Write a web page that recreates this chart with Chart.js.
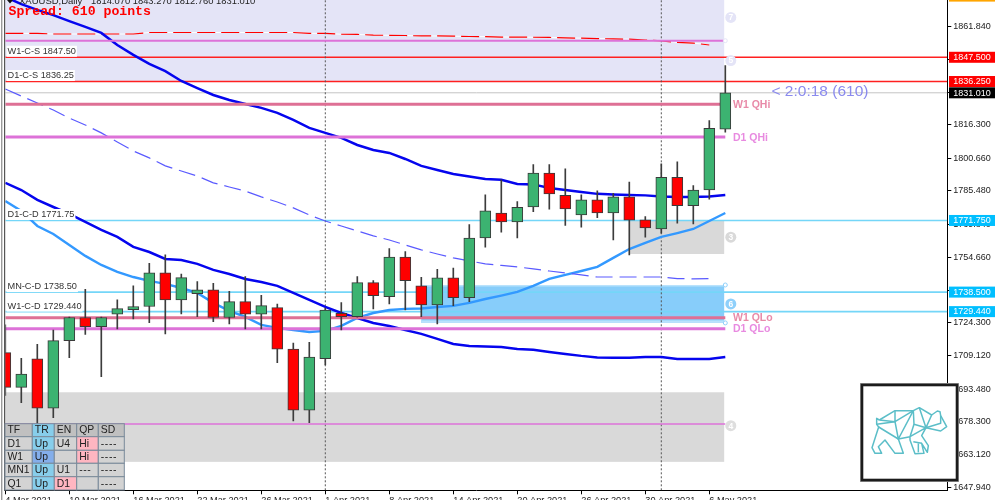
<!DOCTYPE html>
<html><head><meta charset="utf-8">
<style>html,body{margin:0;padding:0;background:#fff;overflow:hidden}canvas{display:block}</style>
<script src="https://cdn.jsdelivr.net/npm/chart.js@4"></script>
</head><body><canvas id="c" width="1000" height="500"></canvas>
<script>
const opens=[1710.4,1694.3,1707.5,1684.6,1716.0,1726.7,1722.5,1728.2,1730.4,1731.8,1747.5,1734.9,1737.8,1739.6,1726.7,1734.1,1728.2,1731.3,1712.0,1683.7,1707.6,1728.7,1727.1,1742.9,1736.4,1754.8,1741.4,1732.6,1745.1,1735.9,1763.6,1775.2,1771.1,1778.0,1793.8,1783.4,1774.3,1781.3,1775.2,1782.7,1772.0,1767.8,1791.8,1778.6,1785.9,1814.1];
const highs=[1723.3,1707.8,1714.3,1720.9,1726.9,1739.8,1726.9,1734.9,1741.4,1751.9,1755.8,1746.9,1743.4,1742.6,1738.9,1745.7,1737.0,1732.9,1714.8,1715.2,1731.1,1733.6,1745.7,1743.8,1758.7,1757.3,1745.4,1749.1,1749.6,1769.8,1783.7,1790.6,1780.5,1797.7,1797.7,1795.7,1783.6,1785.5,1784.4,1789.6,1773.5,1798.0,1799.0,1787.9,1818.1,1843.6];
const lows=[1690.5,1687.2,1676.9,1680.2,1708.1,1718.9,1699.3,1721.4,1726.0,1724.3,1719.1,1728.4,1727.1,1724.8,1723.7,1721.4,1721.4,1705.8,1678.7,1677.9,1704.7,1720.9,1726.9,1730.7,1733.0,1730.2,1727.1,1723.7,1732.2,1734.1,1759.3,1766.3,1763.6,1775.8,1777.0,1769.5,1768.6,1773.1,1762.7,1755.8,1764.0,1765.8,1770.5,1770.1,1781.6,1812.7];
const closes=[1694.3,1700.5,1684.6,1716.0,1726.7,1722.5,1726.7,1730.8,1731.8,1747.5,1734.9,1745.2,1739.6,1726.7,1734.1,1728.2,1732.2,1712.0,1683.7,1708.3,1730.1,1727.1,1742.9,1736.9,1754.8,1743.8,1732.6,1745.1,1735.9,1763.6,1776.2,1771.1,1777.9,1793.8,1784.1,1777.1,1781.3,1775.2,1782.7,1771.9,1768.3,1791.8,1778.6,1785.9,1814.5,1831.0];
const maSlowBlue=[1875.5,1872.2,1869.5,1867.1,1864.3,1861.6,1858.8,1853.2,1848.6,1844.4,1841.1,1836.5,1833.2,1830.0,1827.7,1825.8,1824.0,1821.7,1818.4,1814.7,1812.4,1810.1,1806.8,1804.5,1803.1,1800.3,1797.1,1795.2,1793.3,1792.2,1791.0,1790.6,1788.7,1788.5,1786.8,1785.9,1785.0,1784.1,1783.8,1783.6,1783.4,1782.9,1782.7,1782.7,1782.9,1783.6];
const maLowBlue=[1789.2,1785.9,1781.3,1778.0,1774.8,1771.1,1767.4,1764.1,1759.5,1757.1,1753.9,1753.4,1751.6,1748.8,1746.9,1744.6,1743.2,1741.4,1738.1,1734.9,1731.6,1728.8,1726.5,1724.2,1722.8,1720.9,1719.1,1716.8,1714.4,1713.5,1713.3,1713.0,1712.1,1711.7,1710.7,1709.8,1708.9,1708.2,1708.0,1708.0,1708.4,1708.4,1707.5,1707.5,1707.5,1708.4];
const maSky=[1780.8,1776.2,1769.2,1765.5,1760.4,1755.3,1751.1,1747.9,1745.5,1743.7,1742.3,1740.4,1738.1,1733.5,1729.8,1727.0,1723.3,1721.9,1720.9,1720.0,1720.5,1722.8,1726.5,1728.8,1730.2,1730.7,1730.9,1731.6,1732.1,1733.5,1735.3,1736.9,1738.6,1741.4,1744.6,1746.5,1748.3,1750.2,1754.4,1758.5,1761.3,1764.1,1765.9,1767.8,1771.5,1775.2];
const maDashBlue=[1832.8,1829.5,1826.3,1823.0,1819.3,1816.1,1812.4,1808.2,1804.0,1800.8,1797.1,1794.7,1792.4,1789.2,1787.3,1785.4,1782.7,1780.3,1777.6,1774.3,1771.5,1769.2,1766.9,1764.6,1762.7,1760.4,1758.1,1756.2,1754.4,1753.0,1751.6,1750.9,1750.2,1749.3,1748.3,1747.4,1746.5,1745.5,1745.5,1745.5,1745.5,1745.5,1744.8,1744.6,1744.8];
const maDashRed=[1858.6,1858.6,1858.6,1858.3,1858.3,1858.3,1858.3,1858.3,1858.3,1859.0,1859.0,1859.0,1859.0,1859.0,1859.0,1859.0,1859.0,1859.0,1859.0,1858.6,1858.6,1858.2,1858.1,1857.8,1857.7,1857.6,1857.4,1857.4,1857.3,1857.15,1857.1,1856.9,1856.9,1856.8,1856.7,1856.5,1856.4,1856.2,1856.0,1855.9,1855.5,1855.1,1854.4,1854.1,1853.2];
const yTicks=[1861.84,1846.68,1831.0,1816.3,1800.66,1785.48,1769.84,1754.66,1739.02,1724.3,1709.12,1693.48,1678.3,1663.12,1647.94];
const xTickIndex=[0,4,8,12,16,20,24,28,32,36,40,44];
const xTickLabels=['4 Mar 2021','10 Mar 2021','16 Mar 2021','22 Mar 2021','26 Mar 2021','1 Apr 2021','8 Apr 2021','14 Apr 2021','20 Apr 2021','26 Apr 2021','30 Apr 2021','6 May 2021'];
const fullLineValues=[1847.5,1836.25,1831.01,1771.75,1738.5,1729.44];
const fullLineColors=['#ff2020','#ff2020','#c4c4c4','#74d6f8','#74d6f8','#74d6f8'];
const fullLineWidths=[1.6,1.6,1,1.6,1.6,1.6];
const tagTexts=['1847.500','1836.250','1831.010','1771.750','1738.500','1729.440'];
const tagColors=['#ff0000','#ff0000','#000000','#00bfff','#00bfff','#00bfff'];
const zoneLines=[1855.2,1825.7,1810.5,1726.6,1721.5,1677.3];
const zoneLineColors=['#dd72d8','#de7095','#dd72d8','#de7095','#dd72d8','#dd72d8'];
const zoneLineWidths=[2,3,3,3,3,1.6];
const zoneStarts=[-1,-1,39,26];
const zoneEnds=[44.93,44.93,44.93,44.93];
const zoneLows=[1836.25,1659.7,1756.2,1724.2];
const zoneHighs=[1875,1692.0,1771.75,1741.8];
const zoneFills=['#e4e4f7','#d9d9d9','#d9d9d9','#87cdfa'];
const vLineIndex=[20,41];
const levelLabels=['W1-C-S 1847.50','D1-C-S 1836.25','D1-C-D 1771.75','MN-C-D 1738.50','W1-C-D 1729.440'];
const levelLabelPrices=[1847.5,1836.25,1771.75,1738.5,1729.44];
const qLabels=['W1 QHi','D1 QHi','W1 QLo','D1 QLo'];
const qPrices=[1825.7,1810.5,1726.6,1721.5];
const qColors=['#e88aa8','#e88ae0','#e88aa8','#e88ae0'];
const circleText=['7','5','3','6','4'];
const circlePrices=[1866.0,1846.0,1764.0,1733.0,1676.5];
const circleFills=['#e4e4f7','#e4e4f7','#d9d9d9','#8fd0fb','#dedede'];
const tableHead=['TF','TR','EN','QP','SD'];
const tableRows=[['D1','Up','U4','Hi','----'],['W1','Up','','Hi','----'],['MN1','Up','U1','---','----'],['Q1','Up','D1','','----']];
const tableFills=[['#d3d3d3','#87ceeb','#d3d3d3','#ffb6c1','#d3d3d3'],['#d3d3d3','#84aeeb','#d3d3d3','#ffb6c1','#d3d3d3'],['#d3d3d3','#87ceeb','#d3d3d3','#d3d3d3','#d3d3d3'],['#d3d3d3','#87ceeb','#ffb6c1','#d3d3d3','#d3d3d3']];
const headerSymbol='XAUUSD,Daily';
const headerPrices='1814.070 1843.270 1812.760 1831.010';
const spreadText='Spread: 610 points';
const timerText='< 2:0:18 (610)';
const xMax=58.875, yMin=1646.5, yMax=1874.09, lastIndex=45;
const FONT='"Liberation Sans"';

const pts=a=>a.map((v,i)=>({x:i,y:v}));
const flat=(v,x0,x1)=>[{x:x0,y:v},{x:x1,y:v}];
const ln=(data,color,width,extra)=>Object.assign({type:'line',data,borderColor:color,borderWidth:width,pointRadius:0,tension:0,fill:false,order:5},extra||{});
const datasets=[];
vLineIndex.forEach(i=>datasets.push(ln([{x:i,y:yMin},{x:i,y:yMax}],'#555',1,{borderDash:[2,2],order:6})));
fullLineValues.forEach((v,i)=>datasets.push(ln(flat(v,0,xMax),fullLineColors[i],fullLineWidths[i],{order:6})));
datasets.push(ln(pts(maDashRed),'#ffffff',1,{order:7}));
datasets.push(ln(pts(maDashRed),'#ff0000',1.2,{borderDash:[18,6],order:6}));
datasets.push(ln(pts(maDashBlue),'#5a5aff',1.2,{borderDash:[17,7]}));
datasets.push(ln(pts(maSlowBlue),'#0505ee',2.5));
datasets.push(ln(pts(maLowBlue),'#0505ee',2.5));
datasets.push(ln(pts(maSky),'#3399ff',2.4));
zoneLines.forEach((v,i)=>datasets.push(ln(flat(v,0,lastIndex),zoneLineColors[i],zoneLineWidths[i],{order:4})));
datasets.push({type:'bar',data:lows.map((l,i)=>({x:i,y:[l,highs[i]]})),backgroundColor:'#3c3c3c',barThickness:1,grouped:false,order:2});
datasets.push({type:'bar',data:opens.map((o,i)=>({x:i,y:[o,closes[i]]})),
  backgroundColor:opens.map((o,i)=>closes[i]>=o?'#3cb371':'#ff0000'),borderColor:'#3a3a3a',borderWidth:1,borderSkipped:false,barThickness:11,grouped:false,order:1});

function text(ctx,s,x,y,font,color,align,base){ctx.font=font;ctx.fillStyle=color;ctx.textAlign=align||'left';ctx.textBaseline=base||'middle';ctx.fillText(s,x,y);}
const zonesPlugin={id:'zones',beforeDatasetsDraw(ch){
  const c=ch.ctx,X=ch.scales.x,Y=ch.scales.y,a=ch.chartArea;
  c.save();c.beginPath();c.rect(a.left,a.top,a.width,a.height);c.clip();
  zoneFills.forEach((f,i)=>{const x0=X.getPixelForValue(zoneStarts[i]),x1=X.getPixelForValue(zoneEnds[i]),y0=Y.getPixelForValue(zoneHighs[i]),y1=Y.getPixelForValue(zoneLows[i]);
    c.fillStyle=f;c.fillRect(x0,y0,x1-x0,y1-y0);
    if(i===3){c.fillStyle='#b9e2fc';c.fillRect(x0,y0,x1-x0,1.5);c.fillRect(x0,y1-2.5,x1-x0,2.5);}
  });
  c.restore();
}};
const overlayPlugin={id:'overlay',afterDraw(ch){
  const c=ch.ctx,X=ch.scales.x,Y=ch.scales.y;
  c.save();
  c.fillStyle='#9a9a9a';c.fillRect(1,0,1.4,500);c.fillStyle='#555';c.fillRect(4,0,1.2,491);
  c.fillStyle='#111';c.beginPath();c.moveTo(7,0);c.lineTo(13,0);c.lineTo(10,3.5);c.fill();
  text(c,headerSymbol,19,3.5,'9.5px '+FONT,'#222','left','alphabetic');
  text(c,headerPrices,91,3.5,'9.4px '+FONT,'#222','left','alphabetic');
  text(c,spreadText,8.5,12,'bold 13.2px "Liberation Mono"','#ff0000');
  levelLabels.forEach((s,i)=>{const y=Y.getPixelForValue(levelLabelPrices[i])-(i>=3?5.5:6);c.font='9.2px '+FONT;const w=c.measureText(s).width;
    c.fillStyle='#fff';c.fillRect(6.5,y-5.5,w+2,11);text(c,s,7.5,y,'9.2px '+FONT,'#333');});
  qLabels.forEach((s,i)=>text(c,s,733,Y.getPixelForValue(qPrices[i])+.8,'bold 10.5px '+FONT,qColors[i]));
  text(c,timerText,771.5,91.5,'15.5px '+FONT,'#8a8aee');
  circleText.forEach((s,i)=>{const x=X.getPixelForValue(lastIndex)+5.5,y=Y.getPixelForValue(circlePrices[i]);
    c.fillStyle=circleFills[i];c.beginPath();c.arc(x,y,5.5,0,7);c.fill();
    text(c,s,x,y+.5,'bold 8.5px '+FONT,'#fff','center');});
  [1855.2,1741.8,1724.2].forEach((v,i)=>{const x=X.getPixelForValue(lastIndex),y=Y.getPixelForValue(v);
    c.beginPath();c.arc(x,y,2,0,7);c.fillStyle='#fff';c.fill();c.strokeStyle=i?'#8fd0fb':'#e4e4f7';c.lineWidth=1;c.stroke();});
  fullLineValues.forEach((v,i)=>{const y=Y.getPixelForValue(v);c.fillStyle=tagColors[i];c.fillRect(949,y-5.5,46,11);
    text(c,tagTexts[i],972,y+.3,'9px '+FONT,'#fff','center');});
  c.fillStyle='#ffa500';c.fillRect(949,0,46,1.6);
  const cx=[5,32.3,54.3,76.7,98.3,124.3],cy=[423.7,436.7,450.3,463.3,476.7,490];
  const rows=[tableHead].concat(tableRows);
  rows.forEach((r,ri)=>r.forEach((s,ci)=>{
    c.fillStyle=ri===0?(ci===1?'#87ceeb':'#c0c0c0'):tableFills[ri-1][ci];
    c.fillRect(cx[ci],cy[ri],cx[ci+1]-cx[ci],cy[ri+1]-cy[ri]);
    c.strokeStyle='#7a8a9a';c.lineWidth=1;c.strokeRect(cx[ci],cy[ri],cx[ci+1]-cx[ci],cy[ri+1]-cy[ri]);
    if(s){c.letterSpacing=s[0]==='-'?'.6px':'0px';text(c,s,cx[ci]+2.5,(cy[ri]+cy[ri+1])/2+.3,'10.4px '+FONT,'#222');c.letterSpacing='0px';}
  }));
  c.fillStyle='#fff';c.fillRect(860,383,99,99);c.strokeStyle='#9a9a9a';c.lineWidth=1;c.strokeRect(860.5,383.5,98,98);c.strokeStyle='#1c1c1c';c.lineWidth=2.6;c.strokeRect(862,385,95,95);
  const bear=[
   [[88,135],[135,107],[190,107],[208,98],[245,120],[262,108],[270,110],[272,122],[290,155],[272,168],[228,158]],
   [[88,135],[80,130],[80,148],[86,156],[66,218],[75,235],[95,235],[85,215],[105,195],[135,235],[160,235],[145,192]],
   [[86,156],[145,192],[180,185],[228,158],[215,182],[235,212],[232,232],[215,205],[222,235],[195,236],[180,195],[180,185]],
   [[88,135],[135,140],[190,107],[145,192],[135,140],[135,107]],
   [[190,107],[192,148],[228,158],[208,98]],[[192,148],[180,185]],[[80,148],[135,140]],
   [[245,120],[228,158],[272,145],[272,122]],[[190,200],[215,205]],[[205,205],[205,232]]];
  c.strokeStyle='#5bbec8';c.lineWidth=1.5;c.lineJoin='round';
  bear.forEach(p=>{c.beginPath();p.forEach((q,i)=>{const x=850+q[0]/3,y=375+q[1]/3;i?c.lineTo(x,y):c.moveTo(x,y);});c.stroke();});
  c.restore();
}};
const noPad=s=>{s.paddingLeft=s.paddingRight=s.paddingTop=s.paddingBottom=0;};
new Chart(document.getElementById('c'),{
  data:{datasets},
  plugins:[zonesPlugin,overlayPlugin],
  options:{
    responsive:false,animation:false,devicePixelRatio:1,
    layout:{padding:{left:5.3,right:0,top:0,bottom:0}},
    plugins:{legend:{display:false},title:{display:false},tooltip:{enabled:false}},
    scales:{
      x:{type:'linear',offset:false,min:0,max:xMax,position:'bottom',
        afterBuildTicks(s){s.ticks=xTickIndex.map(v=>({value:v}));},
        afterFit(s){s.height=9.7;noPad(s);},
        grid:{offset:false,drawOnChartArea:false,drawTicks:true,tickLength:4,color:'#000'},
        border:{color:'#000',width:1},
        ticks:{align:'start',autoSkip:false,maxRotation:0,padding:1,color:'#222',font:{family:'Liberation Sans',size:9.2},
          callback:v=>xTickLabels[xTickIndex.indexOf(v)]}},
      y:{type:'linear',min:yMin,max:yMax,position:'right',
        afterBuildTicks(s){s.ticks=yTicks.map(v=>({value:v}));},
        afterFit(s){s.width=52.7;noPad(s);},
        grid:{drawOnChartArea:false,drawTicks:true,tickLength:4,color:'#000'},
        border:{color:'#000',width:1},
        ticks:{autoSkip:false,padding:2,color:'#222',font:{family:'Liberation Sans',size:9},callback:v=>v.toFixed(3)}}
    }
  }
});
</script></body></html>
